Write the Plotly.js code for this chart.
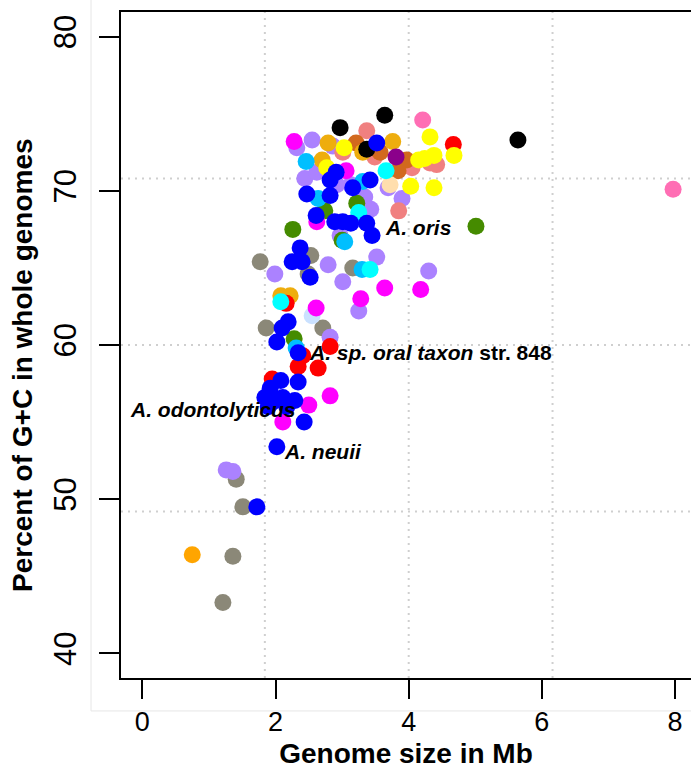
<!DOCTYPE html>
<html>
<head>
<meta charset="utf-8">
<script src="https://cdn.plot.ly/plotly-3.0.1.min.js"></script>
<style>
  html, body { margin: 0; padding: 0; overflow: hidden; background: #ffffff; }
  #chart { width: 691px; height: 769px; }
</style>
</head>
<body>
<div id="chart"></div>
<script>
// ---------------- data (genome size in Mb, G+C percent) ----------------
const grayX = [1.36, 1.21, 1.41, 1.51, 1.77, 2.53, 2.49, 1.86, 2.71, 3.16];
const grayY = [46.3, 43.3, 51.3, 49.5, 65.4, 65.8, 64.6, 61.1, 61.1, 65.0];

const lavenderX = [1.26, 1.36, 1.99, 2.32, 2.55, 2.86, 2.44, 2.62, 2.79, 3.01, 2.97, 3.13, 3.34, 3.43, 3.52, 3.69, 3.90, 4.30, 3.25, 2.82, 2.92];
const lavenderY = [51.9, 51.8, 64.6, 72.8, 73.3, 72.9, 70.8, 71.2, 65.2, 64.1, 67.1, 70.4, 69.6, 68.8, 65.7, 70.2, 69.5, 64.8, 62.2, 60.5, 70.4];

const salmonX = [3.37, 3.01, 3.49, 4.05, 4.32, 4.42, 3.85];
const salmonY = [73.9, 72.5, 72.2, 71.5, 71.8, 71.7, 68.7];

const chocolateX = [3.21, 3.57, 3.97, 3.84];
const chocolateY = [73.1, 72.5, 72.0, 71.3];

const goldenrodX = [2.79, 2.70, 3.31, 3.76, 2.08, 2.22];
const goldenrodY = [73.1, 72.0, 72.5, 73.2, 63.2, 63.2];

const orangeX = [0.75];
const orangeY = [46.4];

const lightblueX = [2.55];
const lightblueY = [61.9];

const greenX = [5.01, 3.22, 2.74, 2.26, 3.00, 2.28];
const greenY = [67.7, 69.2, 68.7, 67.5, 66.8, 60.4];

const redX = [4.67, 2.16, 2.82, 2.41, 2.34, 2.64, 1.95];
const redY = [73.0, 62.7, 59.9, 59.3, 58.6, 58.5, 57.8];

const magentaX = [2.28, 3.06, 2.62, 2.61, 3.64, 4.18, 3.28, 2.82, 2.50, 2.11];
const magentaY = [73.2, 71.3, 68.0, 62.4, 63.7, 63.6, 63.0, 56.7, 56.1, 55.0];

const wheatX = [3.72];
const wheatY = [70.4];

const skyblueX = [2.46, 2.64, 3.04, 3.30, 2.31, 3.31];
const skyblueY = [71.9, 69.5, 66.7, 64.9, 59.8, 70.6];

const cyanX = [3.66, 3.25, 3.42, 2.08];
const cyanY = [71.3, 68.6, 64.9, 62.8];

const purpleX = [3.81];
const purpleY = [72.2];

const yellowX = [3.03, 2.77, 4.32, 4.15, 4.24, 4.38, 4.68, 4.03, 4.38];
const yellowY = [72.8, 71.5, 73.5, 72.0, 72.1, 72.3, 72.3, 70.3, 70.2];

const blackX = [2.97, 3.64, 3.37, 5.64];
const blackY = [74.1, 74.9, 72.7, 73.3];

const hotpinkX = [4.21, 7.97];
const hotpinkY = [74.6, 70.1];

const blueX = [3.52, 3.42, 3.16, 2.91, 2.82, 2.47, 2.82, 2.61, 2.89, 3.01, 3.13, 3.37, 3.45, 2.37, 2.25, 2.40, 2.52,
               2.19, 2.10, 2.02, 2.34, 2.08, 2.34, 1.92, 1.84, 1.96, 2.11, 2.29, 2.17, 1.89, 2.43, 2.02, 1.72];
const blueY = [73.1, 70.7, 70.2, 71.2, 70.7, 69.8, 69.7, 68.4, 68.0, 68.0, 67.9, 67.9, 67.1, 66.3, 65.4, 65.4, 64.4,
               61.5, 61.1, 60.2, 59.5, 57.7, 57.6, 57.2, 56.6, 56.3, 56.6, 56.4, 56.0, 56.0, 55.0, 53.4, 49.5];

const xTicks = [0, 2, 4, 6, 8];
const yTicks = [40, 50, 60, 70, 80];
const xGrid = [1.84, 4.0, 6.16];
const yGrid = [49.2, 60.0, 70.8];

const labelText = ['<b><i>A. oris</i></b>', '<b><i>A. sp. oral taxon</i> str. 848</b>', '<b><i>A. odontolyticus</i></b>', '<b><i>A. neuii</i></b>'];
const labelX = [3.62, 2.48, -0.21, 2.09];
const labelY = [67.6, 59.5, 55.8, 53.1];

const xTitle = 'Genome size in Mb';
const yTitle = 'Percent of G+C in whole genomes';

// ---------------- styling ----------------
const series = [
  [grayX, grayY, '#8B8878'],
  [lavenderX, lavenderY, '#AB82FF'],
  [salmonX, salmonY, '#F08080'],
  [chocolateX, chocolateY, '#D2691E'],
  [goldenrodX, goldenrodY, '#EEAD0E'],
  [orangeX, orangeY, '#FFA500'],
  [lightblueX, lightblueY, '#CAE1FF'],
  [greenX, greenY, '#458B00'],
  [redX, redY, '#FF0000'],
  [magentaX, magentaY, '#FF00FF'],
  [wheatX, wheatY, '#FFDEAD'],
  [skyblueX, skyblueY, '#00BFFF'],
  [cyanX, cyanY, '#00FFFF'],
  [purpleX, purpleY, '#8B008B'],
  [yellowX, yellowY, '#FFFF00'],
  [blackX, blackY, '#000000'],
  [hotpinkX, hotpinkY, '#FF6EB4'],
  [blueX, blueY, '#0000FF']
];

const FONT = 'Liberation Sans, Arial, Helvetica, sans-serif';
const XR = [-0.32, 8.239];
const YR = [38.4, 81.6];

const traces = series.map(s => ({
  type: 'scatter', mode: 'markers', x: s[0], y: s[1],
  marker: { color: s[2], size: 17, line: { width: 0 } },
  hoverinfo: 'x+y', showlegend: false, cliponaxis: false
}));

const shapes = [];
xGrid.forEach(v => shapes.push({ type: 'line', xref: 'x', yref: 'paper', x0: v, x1: v, y0: 0, y1: 1,
  line: { color: '#cfcfcf', width: 2, dash: '2px,5px' }, layer: 'below' }));
yGrid.forEach(v => shapes.push({ type: 'line', xref: 'paper', yref: 'y', x0: 0, x1: 1, y0: v, y1: v,
  line: { color: '#cfcfcf', width: 2, dash: '2px,5px' }, layer: 'below' }));
// faint outer frame of the original figure
shapes.push({ type: 'line', xref: 'paper', yref: 'paper', x0: -0.0526, x1: -0.0526, y0: -0.0495, y1: 1.02,
  line: { color: '#e6e6e6', width: 1 } });
shapes.push({ type: 'line', xref: 'paper', yref: 'paper', x0: -0.0526, x1: 1.01, y0: -0.0495, y1: -0.0495,
  line: { color: '#e6e6e6', width: 1 } });

const annotations = labelText.map((t, i) => ({
  x: labelX[i], y: labelY[i], xref: 'x', yref: 'y', text: t, showarrow: false,
  xanchor: 'left', yanchor: 'middle', font: { family: FONT, size: 21, color: '#000' }
}));
// y-axis title (placed as in the original, slightly below the plot centre)
annotations.push({
  xref: 'paper', yref: 'paper', x: -0.172, y: 0.47, text: '<b>' + yTitle + '</b>', textangle: -90,
  showarrow: false, xanchor: 'center', yanchor: 'middle', font: { family: FONT, size: 28, color: '#000' }
});

const layout = {
  width: 691, height: 769,
  margin: { l: 121, r: 0, t: 12, b: 91 },
  paper_bgcolor: '#ffffff', plot_bgcolor: '#ffffff',
  font: { family: FONT, color: '#000' },
  xaxis: {
    range: XR, tickvals: xTicks, ticktext: xTicks.map(String),
    showgrid: false, zeroline: false,
    showline: true, linecolor: '#000', linewidth: 2, mirror: true,
    ticks: 'outside', ticklen: 19, tickwidth: 2, tickcolor: '#000',
    tickfont: { family: FONT, size: 27, color: '#000' },
    title: { text: '<b>' + xTitle + '</b>', font: { family: FONT, size: 28, color: '#000' }, standoff: 8 }
  },
  yaxis: {
    range: YR, tickvals: yTicks, ticktext: yTicks.map(String),
    showgrid: false, zeroline: false,
    showline: true, linecolor: '#000', linewidth: 2, mirror: false,
    ticks: 'outside', ticklen: 20, tickwidth: 2, tickcolor: '#000', tickangle: -90,
    ticklabelstandoff: 11,
    tickfont: { family: FONT, size: 31, color: '#000' }
  },
  shapes: shapes,
  annotations: annotations
};

Plotly.newPlot('chart', traces, layout, { displayModeBar: false, staticPlot: true });
</script>
</body>
</html>
